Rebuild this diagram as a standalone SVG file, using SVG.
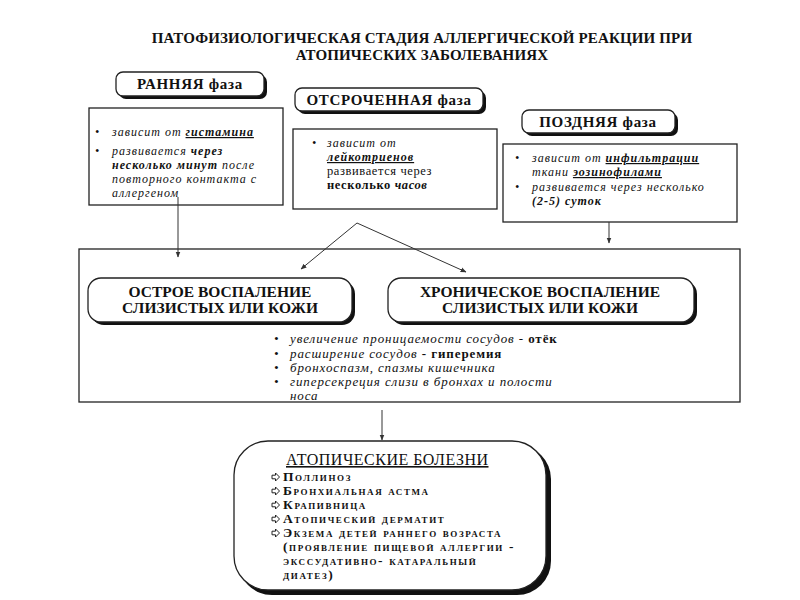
<svg xmlns="http://www.w3.org/2000/svg" width="800" height="600" viewBox="0 0 800 600" font-family="'Liberation Serif', 'DejaVu Serif', serif">
<defs>
<style>
text{fill:#111}
.title{font-size:15px;font-weight:bold;text-anchor:middle;letter-spacing:0.15px}
.lab{font-size:15px;font-weight:bold;text-anchor:middle;letter-spacing:0.7px}
.lab2{font-size:15.5px;font-weight:bold;text-anchor:middle}
.hd{font-size:16px;text-decoration:underline;letter-spacing:0.5px}
.it{font-size:12px;font-style:italic;letter-spacing:1px}
.it2{font-size:13px;font-style:italic;letter-spacing:0.9px}
.rg{font-size:12.5px;letter-spacing:0.6px}
.b{font-weight:bold}
.u{text-decoration:underline}
.n{font-style:normal}
.box{fill:#fff;stroke:#222;stroke-width:1.3}
.open{fill:none;stroke:#222;stroke-width:1.3}
.shadow{fill:#111}
.con{stroke:#333;stroke-width:1;fill:none;marker-end:url(#ah)}
.sc{font-size:13.5px;font-weight:bold;font-variant:small-caps;letter-spacing:1.6px}
</style>
<marker id="ah" viewBox="0 0 10 10" refX="9" refY="5" markerWidth="6" markerHeight="6" orient="auto-start-reverse">
<path d="M0,1 L10,5 L0,9 z" fill="#333"/>
</marker>
<path id="ic" d="M0,-1.8 L3.5,-1.8 L3.5,-4 L7.5,0 L3.5,4 L3.5,1.8 L0,1.8 z" fill="#fff" stroke="#222" stroke-width="1"/>
</defs>
<rect width="800" height="600" fill="#fff"/>

<g id="title">
<text class="title" x="422" y="43">ПАТОФИЗИОЛОГИЧЕСКАЯ СТАДИЯ АЛЛЕРГИЧЕСКОЙ РЕАКЦИИ ПРИ</text>
<text class="title" x="422" y="60">АТОПИЧЕСКИХ ЗАБОЛЕВАНИЯХ</text>
</g>

<g id="early-label">
<rect class="shadow" x="119" y="75" width="148" height="24" rx="7"/>
<rect class="box" x="116" y="72" width="148" height="24" rx="7"/>
<text class="lab" x="190" y="89">РАННЯЯ фаза</text>
</g>

<g id="early-box">
<rect class="open" x="89" y="108" width="194" height="97"/>
<text class="it" x="95" y="136">•</text>
<text class="it" x="112" y="136">зависит от <tspan class="b u">гистамина</tspan></text>
<text class="it" x="95" y="155">•</text>
<text class="it" x="112" y="155">развивается <tspan class="b">через</tspan></text>
<text class="it" x="112" y="169"><tspan class="b">несколько минут</tspan> после</text>
<text class="it" x="112" y="183">повторного контакта с</text>
<text class="it" x="112" y="197">аллергеном</text>
</g>

<g id="delayed-label">
<rect class="shadow" x="298" y="91" width="188" height="23" rx="7"/>
<rect class="box" x="295" y="88" width="188" height="23" rx="7"/>
<text class="lab" x="389" y="105">ОТСРОЧЕННАЯ фаза</text>
</g>

<g id="delayed-box">
<rect class="box" x="293" y="129" width="204" height="80"/>
<text class="it" x="312" y="147">•</text>
<text class="it" x="327" y="147">зависит от</text>
<text class="it" x="327" y="161"><tspan class="b u">лейкотриенов</tspan></text>
<text class="rg" x="327" y="175">развивается через</text>
<text class="rg" x="327" y="189"><tspan class="b">несколько</tspan> <tspan class="b" font-style="italic">часов</tspan></text>
</g>

<g id="late-label">
<rect class="shadow" x="525" y="113" width="153" height="23" rx="7"/>
<rect class="box" x="522" y="110" width="153" height="23" rx="7"/>
<text class="lab" x="598" y="127">ПОЗДНЯЯ фаза</text>
</g>

<g id="late-box">
<rect class="box" x="503" y="144" width="234" height="78"/>
<text class="it" x="515" y="162">•</text>
<text class="it" x="532" y="162">зависит от <tspan class="b u">инфильтрации</tspan></text>
<text class="it" x="532" y="176">ткани <tspan class="b u">эозинофилами</tspan></text>
<text class="it" x="515" y="191">•</text>
<text class="it" x="532" y="191">развивается через несколько</text>
<text class="it" x="532" y="205"><tspan class="b">(2-5) суток</tspan></text>
</g>

<g id="reaction-box">
<rect class="open" x="79" y="249" width="661" height="153"/>
</g>

<g id="acute">
<rect class="shadow" x="91" y="281" width="264" height="44" rx="13"/>
<rect class="box" x="88" y="278" width="264" height="44" rx="13"/>
<text class="lab2" x="220" y="297">ОСТРОЕ ВОСПАЛЕНИЕ</text>
<text class="lab2" x="220" y="313">СЛИЗИСТЫХ ИЛИ КОЖИ</text>
</g>

<g id="chronic">
<rect class="shadow" x="391" y="281" width="306" height="44" rx="13"/>
<rect class="box" x="388" y="278" width="306" height="44" rx="13"/>
<text class="lab2" x="540" y="297">ХРОНИЧЕСКОЕ ВОСПАЛЕНИЕ</text>
<text class="lab2" x="540" y="313">СЛИЗИСТЫХ ИЛИ КОЖИ</text>
</g>

<g id="symptoms">
<text class="it2" x="274" y="343">•</text>
<text class="it2" x="290" y="343">увеличение проницаемости сосудов - <tspan class="b n">отёк</tspan></text>
<text class="it2" x="274" y="358">•</text>
<text class="it2" x="290" y="358">расширение сосудов <tspan class="b n">- гиперемия</tspan></text>
<text class="it2" x="274" y="372">•</text>
<text class="it2" x="290" y="372">бронхоспазм, спазмы кишечника</text>
<text class="it2" x="274" y="386">•</text>
<text class="it2" x="290" y="386">гиперсекреция слизи в бронхах и полости</text>
<text class="it2" x="290" y="400">носа</text>
</g>

<g id="atopic">
<rect class="shadow" x="238" y="445" width="313" height="150" rx="34"/>
<rect class="box" x="234" y="441" width="312" height="149" rx="34"/>
<text class="hd" x="286" y="465">АТОПИЧЕСКИЕ БОЛЕЗНИ</text>
<use href="#ic" x="272" y="477"/>
<text class="sc" x="283" y="481">Поллиноз</text>
<use href="#ic" x="272" y="491"/>
<text class="sc" x="283" y="495">Бронхиальная астма</text>
<use href="#ic" x="272" y="505"/>
<text class="sc" x="283" y="509">Крапивница</text>
<use href="#ic" x="272" y="519"/>
<text class="sc" x="283" y="523">Атопический дерматит</text>
<use href="#ic" x="272" y="533"/>
<text class="sc" x="283" y="537">Экзема детей раннего возраста</text>
<text class="sc" x="283" y="551">(проявление пищевой аллергии -</text>
<text class="sc" x="283" y="565">экссудативно- катаральный</text>
<text class="sc" x="283" y="579">диатез)</text>
</g>

<g id="connectors">
<line class="con" x1="178" y1="197" x2="178" y2="257"/>
<line class="con" x1="357" y1="223" x2="301" y2="269"/>
<line class="con" x1="357" y1="223" x2="466" y2="272"/>
<line class="con" x1="609" y1="222" x2="609" y2="243"/>
<line class="con" x1="382" y1="410" x2="382" y2="440"/>
</g>
</svg>
